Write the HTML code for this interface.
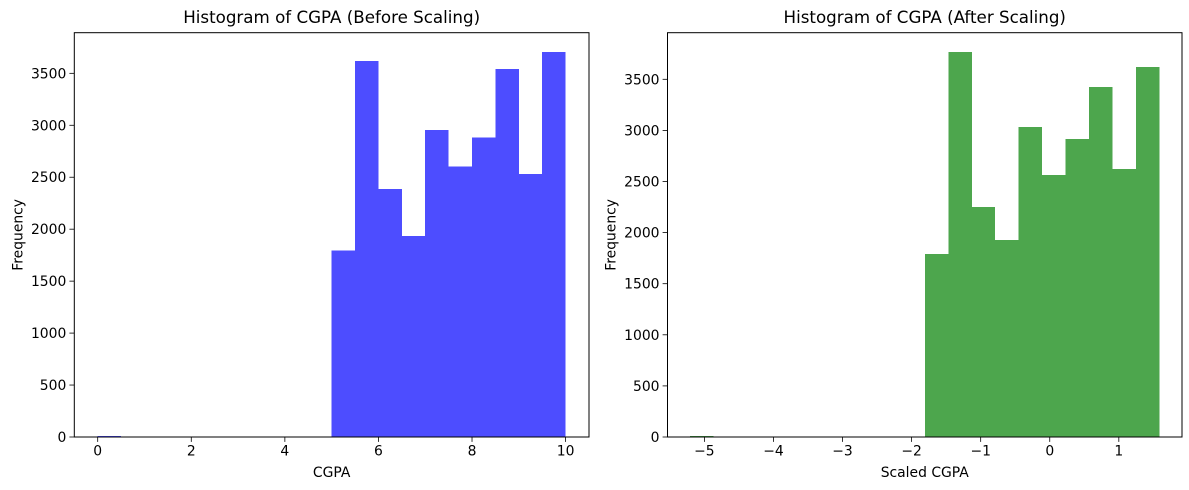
<!DOCTYPE html>
<html><head><meta charset="utf-8"><style>
html,body{margin:0;padding:0;background:#fff;}
svg{display:block;font-family:"DejaVu Sans","Liberation Sans",sans-serif;}
</style></head><body>
<svg id="fig" width="1189" height="490"></svg>
<script>
const leftEdges = [0,0.5,1,1.5,2,2.5,3,3.5,4,4.5,5,5.5,6,6.5,7,7.5,8,8.5,9,9.5,10];
const leftCounts = [10,0,0,0,0,0,0,0,0,0,1793,3619,2387,1934,2955,2602,2881,3542,2531,3705];
const leftXTicks = [0,2,4,6,8,10];
const leftYTicks = [0,500,1000,1500,2000,2500,3000,3500];
const rightMin = -5.206, rightMax = 1.589;
const rightCounts = [10,0,0,0,0,0,0,0,0,0,1791,3768,2251,1928,3034,2564,2916,3425,2623,3618];
const rightXTicks = [-5,-4,-3,-2,-1,0,1];
const rightYTicks = [0,500,1000,1500,2000,2500,3000,3500];

const NS='http://www.w3.org/2000/svg';
const svg=document.getElementById('fig');
function mk(t,a,p){const e=document.createElementNS(NS,t);for(const k in a)e.setAttribute(k,a[k]);(p||svg).appendChild(e);return e;}
function fmt(v){return v<0?'\u2212'+Math.abs(v):String(v);}

function panel(o){
  const g=mk('g',{});
  
  
  const L=o.x0,R=o.x1,T=32.7,B=437;
  const sx=v=>L+(v-o.xmin)/(o.xmax-o.xmin)*(R-L);
  const sy=v=>B-v/o.ymax*(B-T);
  const edges=o.edges;
  o.counts.forEach((c,i)=>{
    if(c<=0)return;
    const r=mk('rect',{x:sx(edges[i]),y:sy(c),width:sx(edges[i+1])-sx(edges[i]),height:B-sy(c),fill:o.color,'shape-rendering':'crispEdges'},g);
    
    
  });
  const fr=mk('rect',{x:L,y:T,width:R-L,height:B-T,fill:'none',stroke:'#000','stroke-width':1},g);
  
  
  o.xticks.forEach(t=>{
    const x=sx(t);
    mk('line',{x1:x,x2:x,y1:B,y2:B+4.9,stroke:'#000','stroke-width':0.8},g);
    const tx=mk('text',{x:x,y:B+18.5,'font-size':13.9,'text-anchor':'middle',fill:'#000'},g);
    tx.textContent=fmt(t);
    
    
  });
  o.yticks.forEach(t=>{
    const y=sy(t);
    mk('line',{x1:L-4.9,x2:L,y1:y,y2:y,stroke:'#000','stroke-width':0.8},g);
    const tx=mk('text',{x:L-8,y:y+5,'font-size':13.9,'text-anchor':'end',fill:'#000'},g);
    tx.textContent=String(t);
    
    
  });
  const ti=mk('text',{x:(L+R)/2,y:23,'font-size':16.7,'text-anchor':'middle',fill:'#000'},g);
  ti.textContent=o.title;
  
  
  const xl=mk('text',{x:(L+R)/2,y:477,'font-size':13.9,'text-anchor':'middle',fill:'#000'},g);
  xl.textContent=o.xlabel;
  
  
  const yx=L-o.ylOff, yc=(T+B)/2;
  const yl=mk('text',{x:yx,y:yc,'font-size':13.9,'text-anchor':'middle',fill:'#000',transform:`rotate(-90 ${yx} ${yc})`},g);
  yl.textContent='Frequency';
  
  
}
panel({name:'before-scaling-chart',x0:74.3,x1:589,xmin:-0.5,xmax:10.5,ymax:3891,edges:leftEdges,counts:leftCounts,color:'#4d4dff',xticks:leftXTicks,yticks:leftYTicks,title:'Histogram of CGPA (Before Scaling)',xlabel:'CGPA',ylOff:52});
const w=(rightMax-rightMin)/rightCounts.length;
const rEdges=[];for(let i=0;i<=rightCounts.length;i++)rEdges.push(rightMin+i*w);
panel({name:'after-scaling-chart',x0:667.5,x1:1182,xmin:-5+(667.5-704.4)/69.07,xmax:-5+(1182-704.4)/69.07,ymax:3956,edges:rEdges,counts:rightCounts,color:'#4da64d',xticks:rightXTicks,yticks:rightYTicks,title:'Histogram of CGPA (After Scaling)',xlabel:'Scaled CGPA',ylOff:52});
</script>
</body></html>
